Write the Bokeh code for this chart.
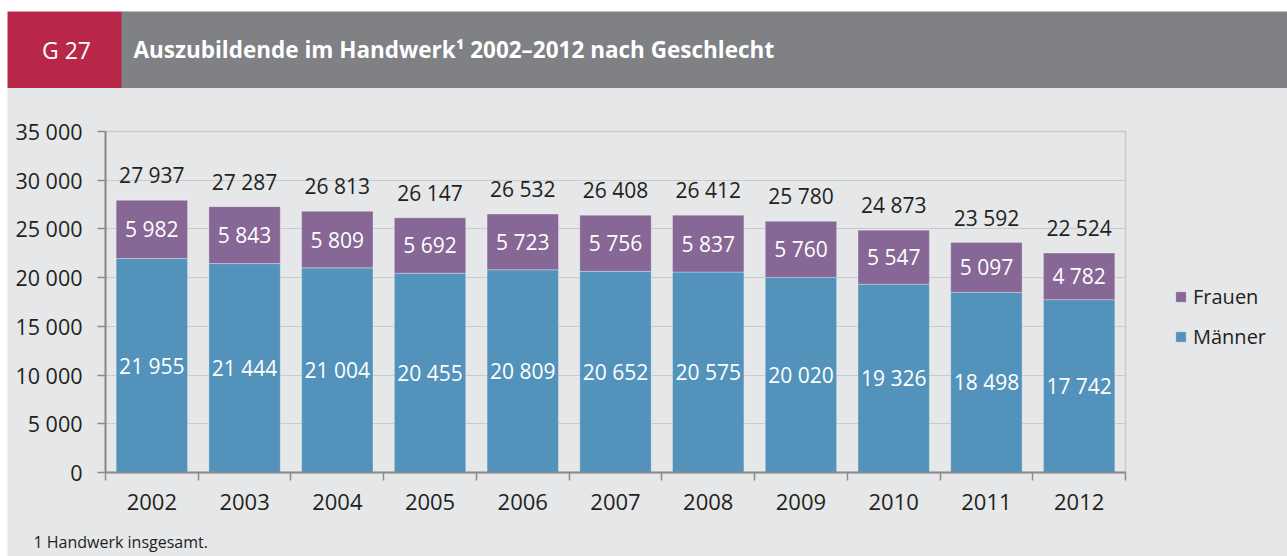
from bokeh.plotting import figure
from bokeh.models import (ColumnDataSource, Range1d, FixedTicker, Legend, LegendItem, Label)
from bokeh.core.properties import value
from bokeh.embed import file_html
from bokeh.resources import INLINE

years = [2002, 2003, 2004, 2005, 2006, 2007, 2008, 2009, 2010, 2011, 2012]
maenner = [21955, 21444, 21004, 20455, 20809, 20652, 20575, 20020, 19326, 18498, 17742]
frauen = [5982, 5843, 5809, 5692, 5723, 5756, 5837, 5760, 5547, 5097, 4782]
totals = [27937, 27287, 26813, 26147, 26532, 26408, 26412, 25780, 24873, 23592, 22524]
y_ticks = [0, 5000, 10000, 15000, 20000, 25000, 30000, 35000]

title_text = "Auszubildende im Handwerk\u00b9 2002\u20132012 nach Geschlecht"
chart_id = "G 27"
footnote = "1 Handwerk insgesamt."

BLUE = "#5393bb"
PURPLE = "#866796"
RED = "#b8264a"
HEADGREY = "#808184"
BG = "#e6e7e9"
AXIS = "#8a8a8a"
GRID = "#c9cacc"
TXT = "#231f20"
FONT = "Open Sans"

W, H = 1287, 556


def fmt(v):
    return f"{v:,}".replace(",", " ")


src = ColumnDataSource(dict(
    year=years,
    maenner=maenner,
    frauen=frauen,
    total=totals,
    total_lbl=[fmt(v) for v in totals],
    m_lbl=[fmt(v) for v in maenner],
    f_lbl=[fmt(v) for v in frauen],
    m_mid=[m / 2 for m in maenner],
    f_mid=[m + f / 2 for m, f in zip(maenner, frauen)],
))

p = figure(width=W, height=H, frame_width=1020, frame_height=341,
           output_backend="svg", toolbar_location=None,
           x_range=Range1d(years[0] - 0.5, years[-1] + 0.5),
           y_range=Range1d(0, 35000),
           min_border_left=105, min_border_right=162, min_border_top=131,
           min_border_bottom=84)
p.background_fill_color = BG
p.border_fill_color = BG
p.outline_line_color = GRID
p.outline_line_width = 1.5

rs = p.vbar_stack(["maenner", "frauen"], x="year", width=0.77, source=src,
                  color=[BLUE, PURPLE], line_color="white", line_alpha=0.3, line_width=1)

yax = p.yaxis[0]
yax.ticker = FixedTicker(ticks=y_ticks)
yax.major_label_overrides = {t: fmt(t) for t in y_ticks}
yax.axis_line_color = AXIS
yax.axis_line_width = 2
yax.major_tick_line_color = AXIS
yax.major_tick_line_width = 1.5
yax.major_tick_out = 8
yax.major_tick_in = 0
yax.minor_tick_line_color = None
yax.major_label_text_font = FONT
yax.major_label_text_font_size = "21.5px"
yax.major_label_text_color = TXT
yax.major_label_standoff = 15

xax = p.xaxis[0]
xax.ticker = FixedTicker(ticks=years, minor_ticks=[y - 0.5 for y in years] + [years[-1] + 0.5])
xax.major_label_overrides = {y: str(y) for y in years}
xax.axis_line_color = AXIS
xax.axis_line_width = 2
xax.major_tick_out = 0
xax.major_tick_in = 0
xax.minor_tick_out = 8
xax.minor_tick_in = 0
xax.minor_tick_line_color = AXIS
xax.minor_tick_line_width = 1.5
xax.major_label_text_font = FONT
xax.major_label_text_font_size = "22px"
xax.major_label_text_color = TXT
xax.major_label_standoff = 13

p.xgrid.visible = False
p.ygrid.ticker = FixedTicker(ticks=y_ticks)
p.ygrid.grid_line_color = GRID
p.ygrid.grid_line_width = 1.2

p.text(x="year", y="total", text="total_lbl", source=src, text_align="center",
       text_baseline="alphabetic", y_offset=-25, text_font=value(FONT),
       text_font_size="21px", text_color=TXT)
p.text(x="year", y="f_mid", text="f_lbl", source=src, text_align="center",
       text_baseline="middle", text_font=value(FONT), text_font_size="21px",
       text_color="white")
p.text(x="year", y="m_mid", text="m_lbl", source=src, text_align="center",
       text_baseline="middle", text_font=value(FONT), text_font_size="21px",
       text_color="white")

legend = Legend(items=[LegendItem(label="Frauen", renderers=[rs[1]]),
                       LegendItem(label="Männer", renderers=[rs[0]])],
                location=(49, 122), orientation="vertical",
                background_fill_alpha=0, border_line_color=None,
                glyph_width=13, glyph_height=13, label_standoff=6,
                label_text_font=FONT, label_text_font_size="20px",
                label_text_color=TXT, spacing=13, padding=0, margin=0)
p.add_layout(legend, "right")

# Header band: labels in side panels (not clipped to the frame).
# padding = (left, right, top, bottom); the thick border extends each box
# vertically without adding to the panel's size.
p.add_layout(Label(x=133, y=49, x_units="canvas", y_units="canvas", text=title_text,
                   text_align="left", text_baseline="middle", text_font=FONT,
                   text_font_size="22.5px", text_font_style="bold", text_color="white",
                   background_fill_color=HEADGREY, padding=(0, 2000, 0, 0),
                   border_line_color=HEADGREY, border_line_width=46,
                   border_line_join="miter"), "above")
p.add_layout(Label(x=98.5, y=49, x_units="canvas", y_units="canvas", text=chart_id,
                   text_align="right", text_baseline="middle", text_font=FONT,
                   text_font_size="23px", text_color="white",
                   background_fill_color=RED, padding=(14, 8, 0, 0),
                   border_line_color=RED, border_line_width=45,
                   border_line_join="miter"), "above")
# white page strips at top and left
p.add_layout(Label(x=0, y=11, x_units="canvas", y_units="canvas", text=" ",
                   text_align="left", text_baseline="bottom", text_font=FONT,
                   text_font_size="10px", background_fill_color="white",
                   padding=(50, 2000, 10, 0)), "above")
p.add_layout(Label(x=7, y=0, x_units="canvas", y_units="canvas", text=" ",
                   text_align="right", text_baseline="top", text_font=FONT,
                   text_font_size="10px", background_fill_color="white",
                   padding=(7, 0, 0, 600)), "right")
p.add_layout(Label(x=33, y=541, x_units="canvas", y_units="canvas", text=footnote,
                   text_align="left", text_baseline="middle", text_font=FONT,
                   text_font_size="16px", text_color=TXT), "below")

open("out.html", "w").write(file_html(p, INLINE))
